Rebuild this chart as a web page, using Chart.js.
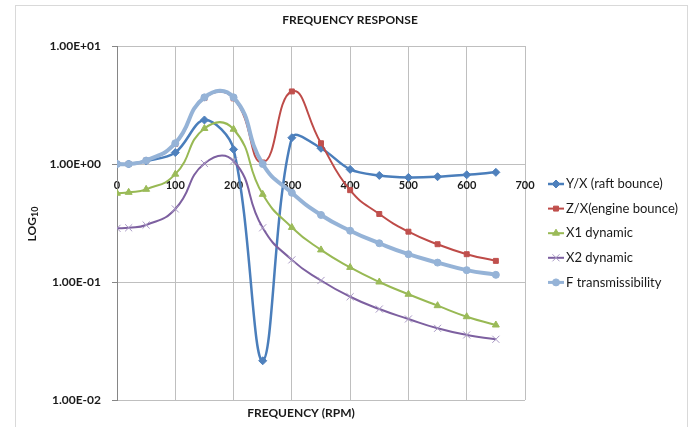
<!DOCTYPE html>
<html><head><meta charset="utf-8">
<script src="https://cdn.jsdelivr.net/npm/chart.js@4"></script>
<style>html,body{margin:0;padding:0;background:#fff}#wrap{width:698px;height:427px}</style>
</head><body><div id="wrap"><canvas id="c" width="698" height="427"></canvas></div>
<script>
const rpm = [0,20,50,100,150,200,250,300,350,400,450,500,550,600,650];
const raftBounce   = [1.0,1.0,1.06,1.25,2.36,1.33,0.0215,1.67,1.36,0.90,0.80,0.77,0.78,0.81,0.85];
const engineBounce = [1.0,1.0,1.07,1.48,3.62,3.60,1.03,4.12,1.50,0.60,0.377,0.267,0.209,0.172,0.151];
const x1Dynamic    = [0.565,0.575,0.61,0.82,2.0,1.97,0.553,0.29,0.187,0.133,0.100,0.0787,0.063,0.0508,0.0432];
const x2Dynamic    = [0.285,0.288,0.304,0.416,1.01,1.06,0.288,0.154,0.103,0.075,0.059,0.0486,0.0405,0.0356,0.0327];
const fTransmiss   = [1.0,1.0,1.07,1.5,3.67,3.67,1.0,0.57,0.37,0.272,0.213,0.172,0.146,0.126,0.115];
const seriesNames = ['Y/X (raft bounce)','Z/X(engine bounce)','X1 dynamic','X2 dynamic','F transmissibility'];
const yTickValues = [0.01,0.1,1,10];
const yTickLabels = ['1.00E-02','1.00E-01','1.00E+00','1.00E+01'];
const xTickValues = [0,100,200,300,400,500,600,700];
const chartTitle = 'FREQUENCY RESPONSE';
const xTitle = 'FREQUENCY (RPM)';

const FONT = 'Lato, "Open Sans", sans-serif';
const TXT = '#1a1a1a';
const styles = [
  {line:'#4A7EBB', fill:'#4F81BD', ps:'rectRot', r:4, w:2.5, t:0.35},
  {line:'#BE4B48', fill:'#C0504D', ps:'rect', r:3.5, w:2, t:0.5},
  {line:'#98B954', fill:'#9BBB59', ps:'triangle', r:4, w:2, t:0.5},
  {line:'#7D60A0', fill:'#A898C4', ps:'crossRot', r:5, w:2, t:0.5},
  {line:'#95B3D7', fill:'#95B3D7', ps:'circle', r:3.5, w:4, t:0.5}
];
const seriesData = [raftBounce, engineBounce, x1Dynamic, x2Dynamic, fTransmiss];

const datasets = seriesData.map((vals,i)=>({
  label: seriesNames[i],
  data: rpm.map((x,j)=>({x:x, y:vals[j]})),
  borderColor: styles[i].line,
  backgroundColor: styles[i].fill,
  pointBackgroundColor: styles[i].fill,
  pointBorderColor: styles[i].fill,
  pointBorderWidth: 1,
  pointStyle: styles[i].ps,
  pointRadius: styles[i].r,
  borderWidth: styles[i].w,
  tension: styles[i].t,
  fill: false,
  order: 4 - i
}));

function drawMarker(ctx, st, x, y){
  ctx.fillStyle = st.fill; ctx.strokeStyle = st.fill; ctx.lineWidth = 1;
  if (Chart.helpers && Chart.helpers.drawPoint) {
    Chart.helpers.drawPoint(ctx, {pointStyle: st.ps, radius: st.r, rotation: 0, borderWidth:1}, x, y);
  } else {
    ctx.beginPath(); ctx.arc(x,y,st.r,0,Math.PI*2); ctx.fill();
  }
}

const decor = {
  id: 'decor',
  beforeDraw(chart){
    const ctx = chart.ctx; ctx.save();
    ctx.fillStyle = '#fff'; ctx.fillRect(0,0,chart.width,chart.height);
    ctx.strokeStyle = '#D9D9D9'; ctx.lineWidth = 1;
    ctx.strokeRect(15.5,5.5,672,440);
    ctx.restore();
  },
  afterDraw(chart){
    const ctx = chart.ctx; ctx.save();
    // chart title
    ctx.fillStyle = TXT; ctx.font = 'bold 12px ' + FONT;
    ctx.textAlign = 'center'; ctx.textBaseline = 'middle';
    ctx.fillText(chartTitle, 350, 20);
    // legend
    chart.data.datasets.forEach((ds,i)=>{
      const st = styles[i];
      const y = 184 + i*24.6;
      ctx.strokeStyle = st.line; ctx.lineWidth = Math.min(st.w,3);
      ctx.beginPath(); ctx.moveTo(548,y); ctx.lineTo(564,y); ctx.stroke();
      drawMarker(ctx, st, 556, y);
      ctx.fillStyle = TXT; ctx.font = '13px ' + FONT;
      ctx.textAlign = 'left'; ctx.textBaseline = 'middle';
      ctx.fillText(ds.label, 566, y);
    });
    // x axis title
    ctx.fillStyle = TXT; ctx.font = 'bold 12px ' + FONT;
    ctx.textAlign = 'center'; ctx.textBaseline = 'middle';
    ctx.fillText(xTitle, 301, 413);
    // y axis title LOG10
    ctx.translate(32, 224); ctx.rotate(-Math.PI/2);
    ctx.font = 'bold 12px ' + FONT; const w1 = ctx.measureText('LOG').width;
    ctx.font = 'bold 9px ' + FONT; const w2 = ctx.measureText('10').width;
    const x0 = -(w1+w2)/2;
    ctx.textAlign = 'left'; ctx.textBaseline = 'alphabetic';
    ctx.font = 'bold 12px ' + FONT; ctx.fillText('LOG', x0, 4);
    ctx.font = 'bold 9px ' + FONT; ctx.fillText('10', x0+w1, 6);
    ctx.restore();
  }
};

new Chart(document.getElementById('c'), {
  type: 'line',
  data: { datasets },
  plugins: [decor],
  options: {
    responsive: false, animation: false, devicePixelRatio: 1,
    layout: { padding: { top: 46, right: 173, bottom: 27, left: 0 } },
    plugins: {
      legend: { display: false },
      tooltip: { enabled: false },
      title: { display: false }
    },
    scales: {
      x: {
        type: 'linear', min: 0, max: 700,
        position: { y: 1 },
        afterBuildTicks(scale){ scale.ticks = xTickValues.map(v=>({value:v})); },
        ticks: { color: TXT, font: { family: FONT, size: 11, weight: 'bold' }, padding: 15,
          callback: (v)=> String(v) },
        grid: { color: '#BFBFBF', lineWidth: 1, drawTicks: false },
        border: { display: true, color: '#BFBFBF' }
      },
      y: {
        type: 'logarithmic', min: 0.01, max: 10,
        afterFit(scale){ scale.width = 117; },
        afterBuildTicks(scale){ scale.ticks = yTickValues.map(v=>({value:v})); },
        ticks: { color: TXT, font: { family: FONT, size: 12, weight: 'bold' }, padding: 11,
          callback: (v)=> { const k = yTickValues.indexOf(v); return k>=0 ? yTickLabels[k] : ''; } },
        grid: { color: '#BFBFBF', lineWidth: 1, tickLength: 5, tickColor: '#868686' },
        border: { display: true, color: '#868686' }
      }
    }
  }
});
</script></body></html>
